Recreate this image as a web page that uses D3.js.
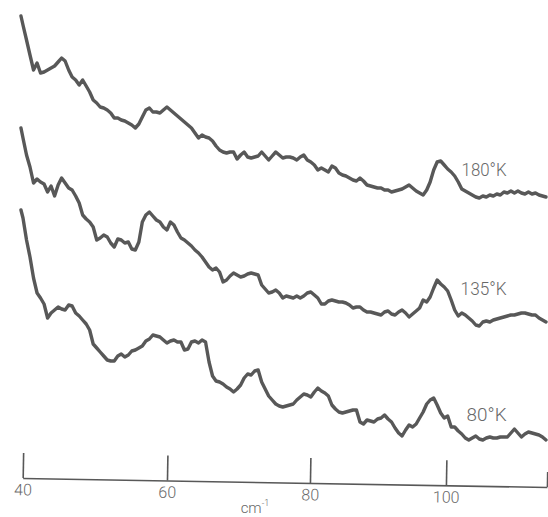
<!DOCTYPE html>
<html>
<head>
<meta charset="utf-8">
<script src="https://cdn.jsdelivr.net/npm/d3@7/dist/d3.min.js"></script>
<style>
  html, body { margin: 0; padding: 0; background: #fff; }
  svg { display: block; }
</style>
</head>
<body>
<svg id="chart" width="548" height="517"></svg>
<script>
// Wavenumber (cm^-1) of each sample
const wavenumber = [39.76,
  40.04,40.53,41.01,41.50,41.99,42.47,42.96,43.45,43.93,44.42,
  44.91,45.39,45.88,46.37,46.85,47.34,47.83,48.31,48.80,49.28,
  49.77,50.26,50.74,51.23,51.72,52.20,52.69,53.18,53.66,54.15,
  54.64,55.12,55.61,56.10,56.58,57.07,57.56,58.04,58.53,59.02,
  59.50,59.99,60.48,60.97,61.46,61.95,62.44,62.93,63.42,63.91,
  64.41,64.90,65.39,65.88,66.37,66.86,67.35,67.84,68.33,68.82,
  69.31,69.80,70.30,70.79,71.28,71.77,72.26,72.75,73.24,73.73,
  74.22,74.71,75.21,75.70,76.19,76.68,77.17,77.66,78.15,78.64,
  79.13,79.62,80.12,80.64,81.15,81.67,82.19,82.70,83.22,83.74,
  84.25,84.77,85.28,85.80,86.32,86.83,87.35,87.86,88.38,88.90,
  89.41,89.93,90.45,90.96,91.48,91.99,92.51,93.03,93.54,94.06,
  94.57,95.09,95.61,96.12,96.64,97.16,97.67,98.19,98.70,99.22,
  99.74,100.25,100.77,101.29,101.82,102.34,102.86,103.38,103.90,104.42,
  104.95,105.47,105.99,106.51,107.03,107.55,108.07,108.60,109.12,109.64,
  110.16,110.68,111.20,111.72,112.24,112.77,113.29,113.81,114.33,114.85];

// Traces (arbitrary units, curves offset vertically as in the original figure)
const trace180K = [464,
  455,440,425,410,417,407,408,410,412,414,
  418,422,419,410,403,400,395,400,394,388,
  380,377,373,372,370,367,362,362,360,359,
  357,355,352,356,363,370,372,368,368,367,
  370,373,370,367,364,361,358,355,352,347,
  342,345,343,342,339,334,330,328,327,328,
  328,321,325,328,323,322,323,324,328,324,
  320,324,328,325,322,323,323,322,320,323,
  325,320,318,315,310,312,310,308,314,312,
  307,305,304,302,300,299,302,299,295,294,
  293,292,292,290,290,288,289,290,291,293,
  295,292,289,287,285,290,298,310,318,319,
  315,311,308,304,298,291,289,287,285,283,
  282,284,283,285,284,286,285,288,287,289,
  287,289,287,286,288,286,287,285,284,283];

const trace135K = [352,
  342,325,313,297,301,298,296,288,294,284,
  295,302,297,292,290,284,277,265,261,258,
  253,240,242,245,243,237,233,241,240,237,
  238,231,230,238,258,265,268,264,260,258,
  253,250,258,255,248,242,240,237,234,230,
  227,223,218,213,210,212,208,198,200,204,
  207,205,203,204,206,207,206,205,195,191,
  187,188,190,187,182,184,183,182,184,182,
  184,187,188,185,182,176,176,179,180,179,
  178,178,177,175,172,173,173,170,168,168,
  167,166,165,168,169,166,165,168,170,167,
  163,166,169,172,180,178,183,192,200,196,
  193,189,180,170,164,167,165,162,159,155,
  154,158,159,158,160,161,162,163,164,165,
  165,166,167,167,166,165,165,162,160,158];

const trace80K = [270,
  262,240,223,202,187,182,176,162,167,170,
  173,171,170,175,174,167,164,160,156,150,
  136,132,128,124,120,119,119,124,126,123,
  125,129,130,132,134,139,141,145,144,143,
  140,137,139,140,138,138,130,131,138,139,
  137,140,138,118,104,99,98,96,93,91,
  88,91,95,102,106,105,109,110,98,91,
  84,80,76,74,73,74,75,76,80,83,
  86,85,83,88,92,89,87,84,75,71,
  68,67,68,69,70,70,58,56,60,59,
  58,61,62,65,61,58,52,47,44,50,
  55,53,56,62,68,76,80,82,75,67,
  62,64,53,53,49,46,42,40,42,44,
  41,40,42,43,42,42,43,43,43,47,
  51,47,43,46,48,47,46,45,43,40];

const seriesNames = ["180°K", "135°K", "80°K"];
const seriesValues = [trace180K, trace135K, trace80K];

const tickValues = [40, 60, 80, 100];
const axisEnd = 115;
const axisTitle = "cm";
const axisTitleSup = "-1";

// ---------------- drawing ----------------
const svg = d3.select("#chart");
const ink = "#585858";
const textInk = "#686868";

// hand-drawn axis is slightly non-uniform: piecewise linear scale
const x = d3.scaleLinear()
  .domain([40, 60, 80, 100, axisEnd])
  .range([22.7, 167, 310, 446, 547]);
const y = d3.scaleLinear().domain([0, 480]).range([480, 0]);

const line = d3.line()
  .x(d => x(d[0]))
  .y(d => y(d[1]))
  .curve(d3.curveLinear);

seriesValues.forEach((vals) => {
  const pts = wavenumber.map((w, i) => [w, vals[i]]);
  svg.append("path")
    .datum(pts)
    .attr("d", line)
    .attr("fill", "none")
    .attr("stroke", ink)
    .attr("stroke-width", 3.4)
    .attr("stroke-linejoin", "round")
    .attr("stroke-linecap", "round");
});

// series labels
const labelPos = [
  { w: 109, v: 304, len: 45 },
  { w: 109, v: 185, len: 46 },
  { w: 109, v: 59, len: 40 }
];
seriesNames.forEach((name, i) => {
  svg.append("text")
    .attr("x", x(labelPos[i].w))
    .attr("y", y(labelPos[i].v))
    .attr("text-anchor", "end")
    .attr("font-family", "Roboto, 'DejaVu Sans', sans-serif")
    .attr("font-weight", 300)
    .attr("font-size", 19)
    .attr("fill", textInk)
    .attr("textLength", labelPos[i].len)
    .attr("lengthAdjust", "spacingAndGlyphs")
    .text(name);
});

// axis
const axis = d3.axisBottom(x)
  .tickValues(tickValues.concat([axisEnd]))
  .tickFormat(d => (d === axisEnd ? "" : d))
  .tickSizeInner(-25)
  .tickSizeOuter(0)
  .tickPadding(6);

const gAxis = svg.append("g")
  .attr("transform", "translate(0,478) rotate(0.98,22.7,0)")
  .call(axis);

gAxis.select(".domain").attr("stroke", ink).attr("stroke-width", 1.6);
gAxis.selectAll(".tick line")
  .attr("stroke", ink)
  .attr("stroke-width", 1.6)
  .attr("y2", d => (d === axisEnd ? -15 : -25));
gAxis.selectAll(".tick text")
  .attr("fill", textInk)
  .attr("font-family", "Roboto, 'DejaVu Sans', sans-serif")
  .attr("font-weight", 300)
  .attr("font-size", 16);

// axis title
const title = svg.append("text")
  .attr("x", x(72.3))
  .attr("y", 513)
  .attr("text-anchor", "middle")
  .attr("font-family", "Roboto, 'DejaVu Sans', sans-serif")
  .attr("font-weight", 300)
  .attr("font-size", 15)
  .attr("fill", textInk);
title.append("tspan").text(axisTitle);
title.append("tspan")
  .attr("font-size", 9)
  .attr("dy", -7)
  .text(axisTitleSup);
</script>
</body>
</html>
